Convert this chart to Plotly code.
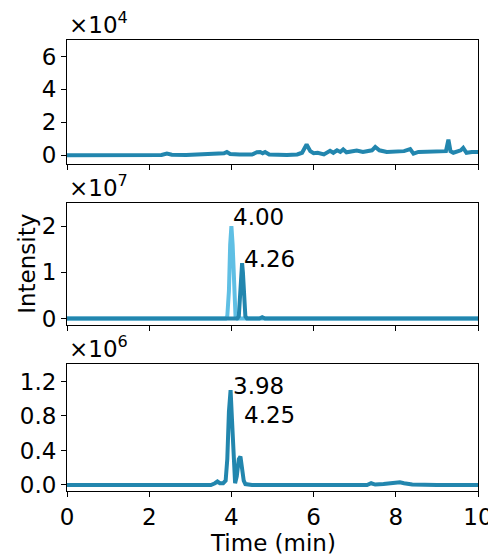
import plotly.graph_objects as go

# top panel, intensity in units of 1e4
t_top = [0, 0.5, 1.0, 1.5, 2.0, 2.3, 2.43, 2.55, 2.9, 3.3, 3.7, 3.82, 3.89, 3.97, 4.2, 4.5, 4.62,
         4.7, 4.76, 4.82, 4.92, 5.1, 5.35, 5.6, 5.72, 5.83, 5.92, 6.0, 6.1, 6.25, 6.4, 6.48, 6.57,
         6.65, 6.72, 6.8, 6.9, 7.05, 7.2, 7.3, 7.42, 7.5, 7.6, 7.78, 8.0, 8.2, 8.35, 8.43, 8.55,
         8.7, 8.83, 9.0, 9.15, 9.22, 9.28, 9.33, 9.4, 9.5, 9.58, 9.64, 9.72, 9.85, 10.0]
i_top = [0, 0, 0.01, 0, 0.01, 0.02, 0.1, 0.03, 0.02, 0.04, 0.06, 0.12, 0.2, 0.08, 0.05, 0.04, 0.18,
         0.2, 0.12, 0.2, 0.05, 0.03, 0.01, 0.05, 0.15, 0.65, 0.25, 0.12, 0.15, 0.05, 0.27, 0.15, 0.3,
         0.2, 0.35, 0.18, 0.22, 0.28, 0.2, 0.26, 0.3, 0.5, 0.3, 0.2, 0.22, 0.25, 0.37, 0.1, 0.2,
         0.2, 0.26, 0.22, 0.2, 0.25, 0.95, 0.25, 0.15, 0.2, 0.3, 0.45, 0.15, 0.2, 0.2]

# middle panel, intensity in units of 1e7
t_mid_a = [0, 3.5, 3.86, 3.90, 3.94, 3.97, 4.00, 4.03, 4.06, 4.10, 4.14, 10.0]
i_mid_a = [0, 0, 0, 0.05, 0.6, 1.6, 2.0, 1.6, 0.6, 0.05, 0, 0]
t_mid_b = [0, 3.0, 3.9, 4.0, 4.14, 4.18, 4.21, 4.24, 4.26, 4.28, 4.31, 4.34, 4.38, 4.68, 4.75, 4.82, 6.0, 8.0, 10.0]
i_mid_b = [0, 0, 0, 0.01, 0, 0.05, 0.4, 1.0, 1.2, 1.0, 0.4, 0.05, 0, 0, 0.03, 0, 0, 0, 0]

# bottom panel, intensity in units of 1e6
t_bot = [0, 1.0, 2.0, 2.4, 2.8, 3.5, 3.6, 3.66, 3.72, 3.8, 3.86, 3.90, 3.94, 3.98, 4.02, 4.06,
         4.09, 4.13, 4.18, 4.22, 4.26, 4.30, 4.34, 4.5, 5.5, 6.5, 7.3, 7.4, 7.5, 7.7, 7.8, 7.9,
         8.0, 8.1, 8.2, 8.4, 9.0, 10.0]
i_bot = [0, 0, 0, 0.006, 0, 0, 0.02, 0.04, 0.02, 0.02, 0.05, 0.3, 0.85, 1.1, 0.7, 0.15,
         0.02, 0.1, 0.3, 0.33, 0.22, 0.05, 0.01, 0, 0, 0, 0, 0.02, 0.005, 0.01, 0.015, 0.01,
         0.015, 0.03, 0.02, 0.005, 0, 0]

peak_labels = ["4.00", "4.26", "3.98", "4.25"]
peak_x = [4.00, 4.26, 3.98, 4.25]
peak_y = [2.0, 1.10, 1.04, 0.71]
peak_axis = ["y2", "y2", "y3", "y3"]

dark = "#2286ae"
light = "#5fbfe4"
font = "DejaVu Sans"
fs = 23

fig = go.Figure()
fig.add_trace(go.Scatter(x=t_top, y=i_top, mode="lines", line=dict(color=dark, width=4),
                         xaxis="x", yaxis="y"))
fig.add_trace(go.Scatter(x=t_mid_a, y=i_mid_a, mode="lines", line=dict(color=light, width=4),
                         xaxis="x2", yaxis="y2"))
fig.add_trace(go.Scatter(x=t_mid_b, y=i_mid_b, mode="lines", line=dict(color=dark, width=4),
                         xaxis="x2", yaxis="y2"))
fig.add_trace(go.Scatter(x=t_bot, y=i_bot, mode="lines", line=dict(color=dark, width=4),
                         xaxis="x3", yaxis="y3"))

ax = dict(showline=True, linecolor="black", linewidth=1, mirror=True, ticks="outside",
          ticklen=5, tickwidth=1, tickcolor="black", showgrid=False, zeroline=False,
          tickfont=dict(family=font, size=fs, color="black"))

doms = [[0.7244, 1.0], [0.369, 0.6386], [0.0, 0.281]]
# page body adds an 8px offset, so the figure is 8px smaller on each side
fig.update_layout(
    xaxis=dict(ax, domain=[0, 1], anchor="y", range=[0, 10], dtick=2, showticklabels=False),
    xaxis2=dict(ax, domain=[0, 1], anchor="y2", range=[0, 10], dtick=2, showticklabels=False),
    xaxis3=dict(ax, domain=[0, 1], anchor="y3", range=[0, 10], dtick=2),
    yaxis=dict(ax, domain=doms[0], anchor="x", range=[-0.55, 7.0], tickvals=[0, 2, 4, 6]),
    yaxis2=dict(ax, domain=doms[1], anchor="x2", range=[-0.13, 2.5], tickvals=[0, 1, 2]),
    yaxis3=dict(ax, domain=doms[2], anchor="x3", range=[-0.07, 1.4],
                tickvals=[0, 0.4, 0.8, 1.2], tickformat=".1f"),
    width=488, height=550,
    margin=dict(l=59, r=18, t=32, b=67, autoexpand=False),
    paper_bgcolor="white", plot_bgcolor="white",
    showlegend=False,
    font=dict(family=font, size=fs, color="black"),
)

# scale factors above each panel
for exp, d in zip(["4", "7", "6"], doms):
    fig.add_annotation(text="×10<sup>" + exp + "</sup>", xref="paper", yref="paper",
                       x=0, y=d[1], xanchor="left", yanchor="bottom", showarrow=False,
                       font=dict(family=font, size=fs))

for lab, px, py, ya in zip(peak_labels, peak_x, peak_y, peak_axis):
    fig.add_annotation(text=lab, x=px, y=py, xref=ya.replace("y", "x"), yref=ya,
                       xanchor="left", yanchor="bottom", yshift=-6, showarrow=False,
                       font=dict(family=font, size=fs))

fig.add_annotation(text="Intensity", xref="paper", yref="paper", x=-0.097, y=0.504,
                   textangle=-90, xanchor="center", yanchor="middle", showarrow=False,
                   font=dict(family=font, size=fs))
fig.add_annotation(text="Time (min)", xref="paper", yref="paper", x=0.5, y=-0.083,
                   xanchor="center", yanchor="top", showarrow=False,
                   font=dict(family=font, size=fs))

fig.write_html("out.html")
